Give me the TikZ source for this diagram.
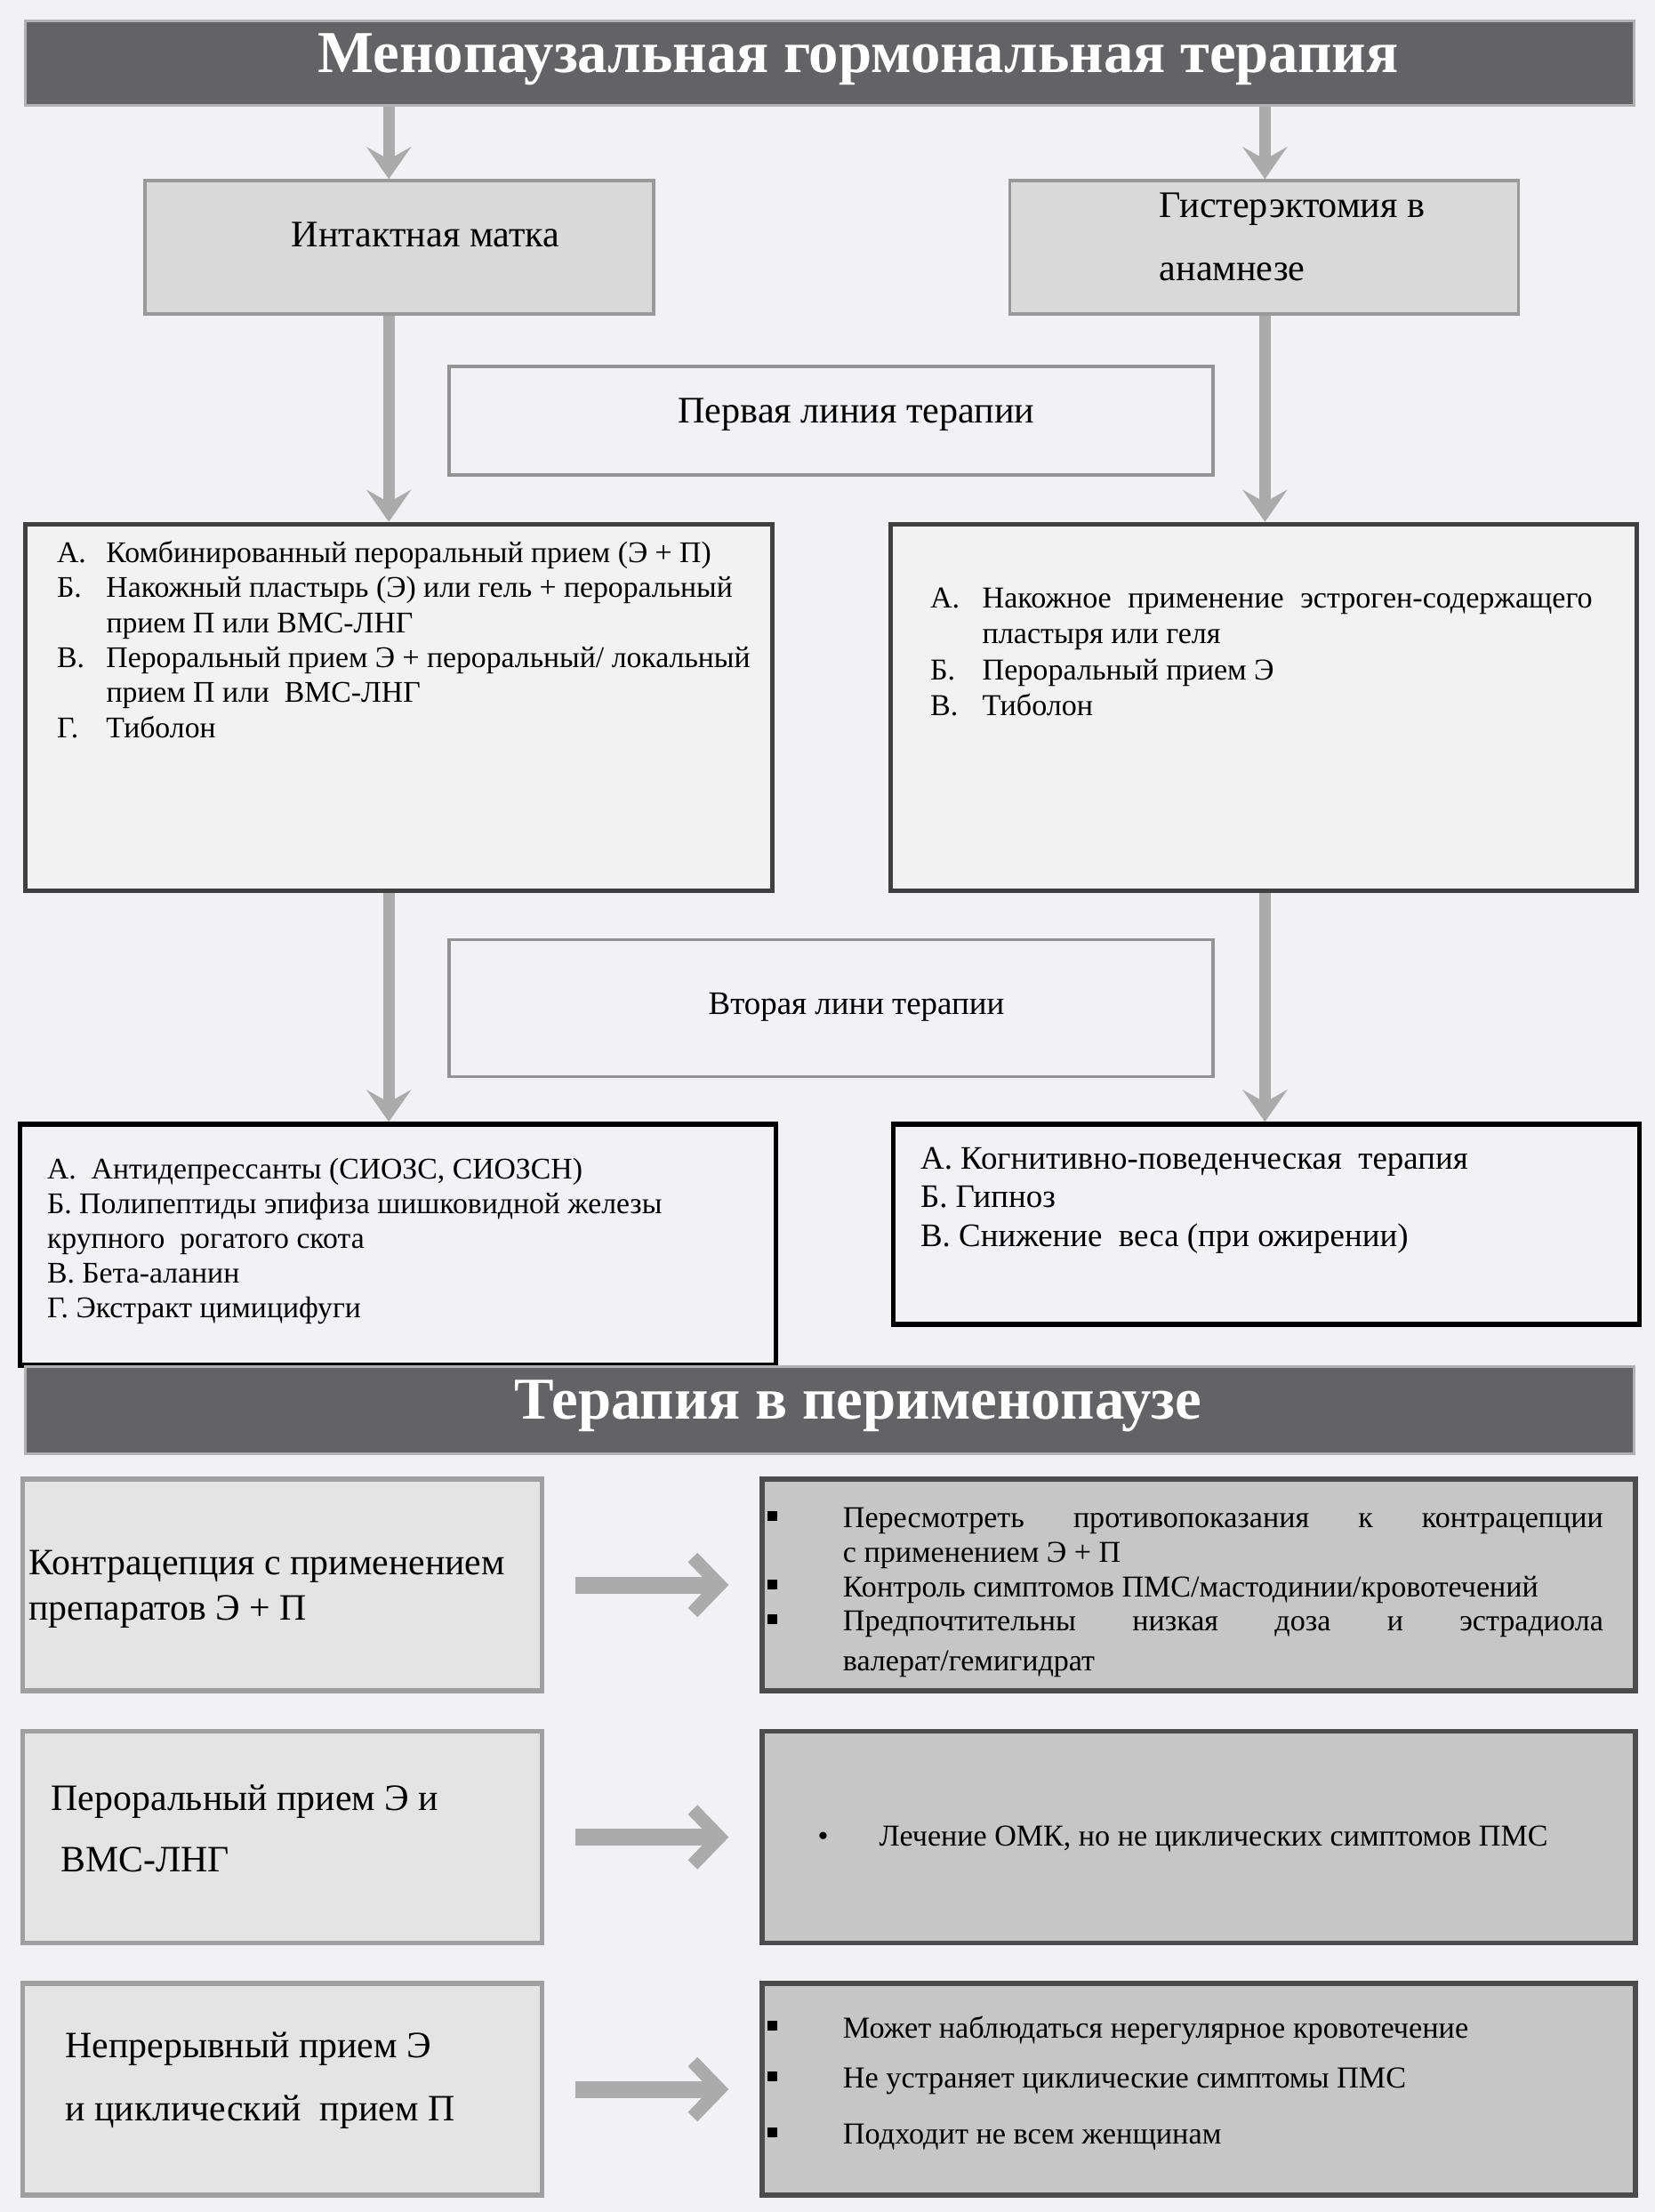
\documentclass[tikz,border=0pt]{standalone}
\usepackage{fontspec}
\setmainfont{Liberation Serif}
\usetikzlibrary{arrows.meta}
\definecolor{pagegray}{HTML}{F2F2F4}
\definecolor{bargray}{HTML}{636366}
\definecolor{arrowgray}{HTML}{ABABAB}
\definecolor{boxgray}{HTML}{D9D9D9}
\definecolor{leftgray}{HTML}{E4E4E4}
\definecolor{rightgray}{HTML}{C6C6C6}
\newcommand{\fsz}[2]{\fontsize{#1}{#2}\selectfont}
\newcommand{\sqbul}{\raisebox{0.08cm}{\rule{0.11cm}{0.11cm}}}

\begin{document}
\begin{tikzpicture}[
  bar/.style={fill=bargray, draw=gray!60, line width=0.8pt, minimum width=18.09cm},
  bartext/.style={text=white, font=\bfseries\fsz{19}{22}},
  headbox/.style={fill=boxgray, draw=gray!80, line width=1pt, minimum width=5.72cm, minimum height=1.5cm},
  linebox/.style={fill=pagegray, draw=gray!85, line width=1pt, minimum width=8.585cm},
  listbox/.style={fill=black!5, draw=black!75, line width=1.4pt, minimum width=8.395cm, minimum height=4.12cm},
  altbox/.style={fill=pagegray, draw=black, line width=1.5pt},
  leftbox/.style={fill=leftgray, draw=gray!75, line width=1.5pt, minimum width=5.845cm, minimum height=2.38cm},
  rightbox/.style={fill=rightgray, draw=black!70, line width=1.5pt, minimum width=9.82cm, minimum height=2.38cm},
  txt/.style={inner sep=0pt, anchor=west},
  flow/.style={draw=arrowgray, line width=0.13cm, -{Stealth[length=0.36cm, width=0.5cm, inset=0.14cm]}},
  block/.style={draw=arrowgray, line width=0.19cm, shorten <=0.35cm, shorten >=0.35cm,
    -{Straight Barb[length=0.3cm, width=0.62cm, line width=0.15cm]}}
]
\useasboundingbox (0,0) rectangle (18.61,-24.87);
\fill[pagegray] (0,0) rectangle (18.61,-24.87);

% menopausal part
\node[bar, minimum height=0.95cm] (menobar) at (9.33,-0.713) {};
\node[bartext] (menotitle) at (9.65,-0.67) {Менопаузальная гормональная терапия};

\node[headbox] (intact) at (4.49,-2.78) {};
\node[font=\fsz{12}{14}] (intacttext) at (4.784,-2.64) {Интактная матка};
\node[headbox] (hyster) at (14.216,-2.78) {};
\node[txt, font=\fsz{12}{20.2}] (hystertext) at (13.03,-2.66)
  {\begin{tabular}{@{}l@{}}Гистерэктомия в\\анамнезе\end{tabular}};

\node[linebox, minimum height=1.22cm] (first) at (9.345,-4.728) {};
\node[font=\fsz{12}{14}] (firsttext) at (9.63,-4.66) {Первая линия терапии};

\node[listbox] (firstL) at (4.483,-7.952) {};
\node[txt, font=\fsz{9.6}{11.2}] (firstLtext) at (0.634,-7.23) {\begin{tabular}{@{}p{0.554cm}@{}l@{}}
А. & Комбинированный пероральный прием (Э + П)\\
Б. & Накожный пластырь (Э) или гель + пероральный\\
   & прием П или ВМС-ЛНГ\\
В. & Пероральный прием Э + пероральный/ локальный\\
   & прием П или\ \ ВМС-ЛНГ\\
Г. & Тиболон
\end{tabular}};

\node[listbox] (firstR) at (14.209,-7.952) {};
\node[txt, font=\fsz{9.7}{11.4}] (firstRtext) at (10.454,-7.36) {\begin{tabular}{@{}p{0.586cm}@{}l@{}}
А. & \makebox[6.86cm][s]{Накожное применение эстроген-содержащего}\\
   & пластыря или геля\\
Б. & Пероральный прием Э\\
В. & Тиболон
\end{tabular}};

\node[linebox, minimum height=1.537cm] (second) at (9.345,-11.334) {};
\node[font=\fsz{10.5}{13}] (secondtext) at (9.63,-11.32) {Вторая лини терапии};

\node[altbox, minimum width=8.506cm, minimum height=2.71cm] (secondL) at (4.475,-13.995) {};
\node[txt, font=\fsz{9.6}{11.1}] (secondLtext) at (0.523,-13.96) {\begin{tabular}{@{}l@{}}
А.\ \ Антидепрессанты (СИОЗС, СИОЗСН)\\
Б. Полипептиды эпифиза шишковидной железы\\
крупного\ \ рогатого скота\\
В. Бета-аланин\\
Г. Экстракт цимицифуги
\end{tabular}};

\node[altbox, minimum width=8.395cm, minimum height=2.25cm] (secondR) at (14.24,-13.765) {};
\node[txt, font=\fsz{10.5}{12.35}] (secondRtext) at (10.344,-13.49) {\begin{tabular}{@{}l@{}}
А. Когнитивно-поведенческая\ \ терапия\\
Б. Гипноз\\
В. Снижение\ \ веса (при ожирении)
\end{tabular}};

\coordinate (lcol) at (4.372,0);
\coordinate (rcol) at (14.224,0);
\draw[flow] (menobar.south -| lcol) -- (intact.north -| lcol);
\draw[flow] (menobar.south -| rcol) -- (hyster.north -| rcol);
\draw[flow] (intact.south -| lcol) -- (firstL.north -| lcol);
\draw[flow] (hyster.south -| rcol) -- (firstR.north -| rcol);
\draw[flow] (firstL.south -| lcol) -- (secondL.north -| lcol);
\draw[flow] (firstR.south -| rcol) -- (secondR.north -| rcol);

% perimenopausal part
\node[bar, minimum height=0.98cm] (peribar) at (9.33,-15.856) {};
\node[bartext] (perititle) at (9.65,-15.81) {Терапия в перименопаузе};

\node[leftbox] (contra) at (3.176,-17.82) {};
\node[txt, font=\fsz{11.9}{14.4}] (contratext) at (0.317,-17.86) {\begin{tabular}{@{}l@{}}
Контрацепция с применением\\
препаратов Э + П
\end{tabular}};
\node[rightbox] (contraR) at (13.48,-17.82) {};
\node[txt, font=\fsz{9.7}{11}] (contraRtext) at (8.62,-17.905) {\begin{tabular}{@{}p{0.852cm}@{}l@{}}
\sqbul & \makebox[8.55cm][s]{Пересмотреть противопоказания к контрацепции}\\
       & с применением Э + П\\
\sqbul & Контроль симптомов ПМС/мастодинии/кровотечений\\
\sqbul & \makebox[8.55cm][s]{Предпочтительны низкая доза и эстрадиола}\\[1.8pt]
       & валерат/гемигидрат
\end{tabular}};

\node[leftbox] (oral) at (3.176,-20.655) {};
\node[txt, font=\fsz{11.9}{19.8}] (oraltext) at (0.57,-20.56) {\begin{tabular}{@{}l@{}}
Пероральный прием Э и\\
\ ВМС-ЛНГ
\end{tabular}};
\node[rightbox] (oralR) at (13.48,-20.655) {};
\node[txt, font=\fsz{9.7}{11}] (oralRtext) at (9.19,-20.67) {\makebox[0.69cm][l]{\textbullet}Лечение ОМК, но не циклических симптомов ПМС};

\node[leftbox] (cont) at (3.176,-23.49) {};
\node[txt, font=\fsz{11.9}{20.2}] (conttext) at (0.729,-23.35) {\begin{tabular}{@{}l@{}}
Непрерывный прием Э\\
и циклический\ \ прием П
\end{tabular}};
\node[rightbox] (contR) at (13.48,-23.49) {};
\node[txt, font=\fsz{9.75}{11}] (contRtext) at (8.62,-23.43) {\begin{tabular}{@{}p{0.852cm}@{}l@{}}
\sqbul & Может наблюдаться нерегулярное кровотечение\\[5.1pt]
\sqbul & Не устраняет циклические симптомы ПМС\\[6.9pt]
\sqbul & Подходит не всем женщинам
\end{tabular}};

\draw[block] (contra) -- (contraR);
\draw[block] (oral) -- (oralR);
\draw[block] (cont) -- (contR);
\end{tikzpicture}
\end{document}
